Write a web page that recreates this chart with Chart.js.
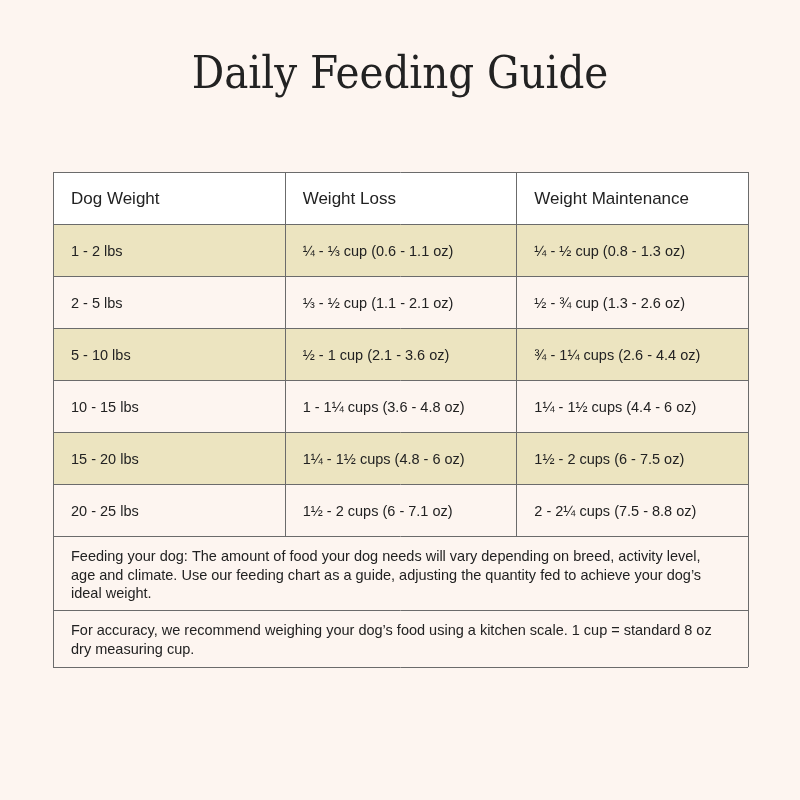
<!DOCTYPE html>
<html>
<head>
<meta charset="utf-8">
<script src="https://cdn.jsdelivr.net/npm/chart.js@4/dist/chart.umd.min.js"></script>
<style>
  html, body { margin: 0; padding: 0; background: #fdf5f0; }
  canvas { display: block; }
</style>
</head>
<body>
<canvas id="c" width="800" height="800"></canvas>
<script>
const title = 'Daily Feeding Guide';
const headers = ['Dog Weight', 'Weight Loss', 'Weight Maintenance'];
const weights = ['1 - 2 lbs', '2 - 5 lbs', '5 - 10 lbs', '10 - 15 lbs', '15 - 20 lbs', '20 - 25 lbs'];
const lossAmounts = [
  '¼ - ⅓ cup (0.6 - 1.1 oz)',
  '⅓ - ½ cup (1.1 - 2.1 oz)',
  '½ - 1 cup (2.1 - 3.6 oz)',
  '1 - 1¼ cups (3.6 - 4.8 oz)',
  '1¼ - 1½ cups (4.8 - 6 oz)',
  '1½ - 2 cups (6 - 7.1 oz)'
];
const maintenanceAmounts = [
  '¼ - ½ cup (0.8 - 1.3 oz)',
  '½ - ¾ cup (1.3 - 2.6 oz)',
  '¾ - 1¼ cups (2.6 - 4.4 oz)',
  '1¼ - 1½ cups (4.4 - 6 oz)',
  '1½ - 2 cups (6 - 7.5 oz)',
  '2 - 2¼ cups (7.5 - 8.8 oz)'
];
const notes = [
  ['Feeding your dog: The amount of food your dog needs will vary depending on breed, activity level,',
   'age and climate. Use our feeding chart as a guide, adjusting the quantity fed to achieve your dog’s',
   'ideal weight.'],
  ['For accuracy, we recommend weighing your dog’s food using a kitchen scale. 1 cup = standard 8 oz',
   'dry measuring cup.']
];
// row boundaries on the y scale
const rowEdges = [0, 52, 104, 156, 208, 260, 312, 364, 438, 495];

const BORDER = '#6b6b6b';
const SHADE = '#ece4c0';
const TEXT = '#222222';

const tablePlugin = {
  id: 'feedingTable',
  afterDraw(chart) {
    const ctx = chart.ctx;
    const x = chart.scales.x, y = chart.scales.y;
    const px = (v) => x.getPixelForValue(v);
    const py = (v) => y.getPixelForValue(v);

    ctx.save();
    // title
    ctx.fillStyle = TEXT;
    ctx.font = '500 45px "DejaVu Serif Condensed", "DejaVu Serif"';
    ctx.textAlign = 'center';
    ctx.textBaseline = 'middle';
    ctx.fillText(title, 400, 76);

    // table background
    ctx.fillStyle = '#ffffff';
    ctx.fillRect(px(0), py(0), px(3) - px(0), py(52) - py(0));
    for (let i = 0; i < weights.length; i++) {
      ctx.fillStyle = i % 2 === 0 ? SHADE : '#fdf5f0';
      ctx.fillRect(px(0), py(rowEdges[i + 1]), px(3) - px(0), py(rowEdges[i + 2]) - py(rowEdges[i + 1]));
    }

    // lines
    ctx.strokeStyle = BORDER;
    ctx.lineWidth = 1;
    rowEdges.forEach(v => {
      ctx.beginPath();
      ctx.moveTo(px(0), Math.round(py(v)) + 0.5);
      ctx.lineTo(px(3), Math.round(py(v)) + 0.5);
      ctx.stroke();
    });
    [0, 1, 2, 3].forEach(c => {
      const bottom = c === 0 || c === 3 ? 495 : 364;
      ctx.beginPath();
      ctx.moveTo(Math.round(px(c)) + 0.5, py(0));
      ctx.lineTo(Math.round(px(c)) + 0.5, py(bottom));
      ctx.stroke();
    });

    // header
    ctx.textAlign = 'left';
    ctx.fillStyle = TEXT;
    ctx.font = '17px "Liberation Sans"';
    headers.forEach((h, c) => ctx.fillText(h, px(c) + 18, py(27)));

    // body
    ctx.font = '14.5px "Liberation Sans"';
    const cols = [weights, lossAmounts, maintenanceAmounts];
    for (let i = 0; i < weights.length; i++) {
      const mid = py((rowEdges[i + 1] + rowEdges[i + 2]) / 2) + 2;
      cols.forEach((col, c) => ctx.fillText(col[i], px(c) + 18, mid));
    }

    // notes
    notes.forEach((lines, n) => {
      const top = py(rowEdges[7 + n]);
      lines.forEach((line, k) => ctx.fillText(line, px(0) + 18, top + 21 + k * 18.5));
    });
    ctx.restore();
  }
};

new Chart(document.getElementById('c'), {
  type: 'bar',
  data: { labels: [], datasets: [{ data: [] }] },
  options: {
    responsive: false,
    animation: false,
    layout: { padding: { left: 53, right: 52, top: 172, bottom: 133 } },
    plugins: { legend: { display: false }, tooltip: { enabled: false } },
    scales: {
      x: { type: 'linear', min: 0, max: 3, offset: false, display: false },
      y: { type: 'linear', min: 0, max: 495, reverse: true, display: false }
    }
  },
  plugins: [tablePlugin]
});
</script>
</body>
</html>
